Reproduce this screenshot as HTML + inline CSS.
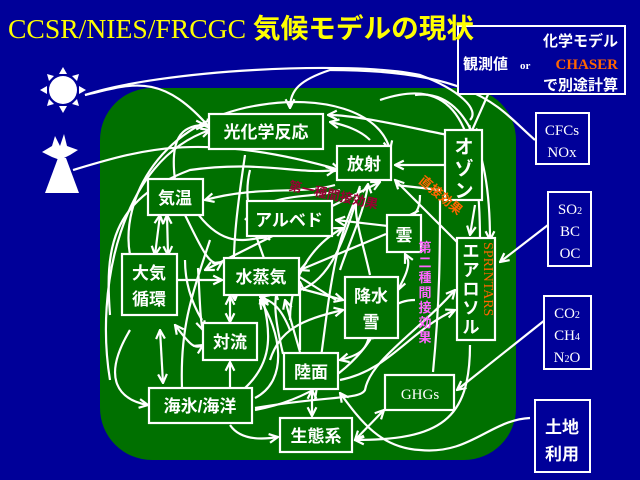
<!DOCTYPE html>
<html><head><meta charset="utf-8"><style>
html,body{margin:0;padding:0;background:#000099;}
svg{display:block;}
.j{font-family:"Liberation Sans","Noto Sans CJK JP",sans-serif;font-weight:bold;fill:#fff;}
.s{font-family:"Liberation Serif",serif;fill:#fff;}
</style></head><body>
<svg width="640" height="480" viewBox="0 0 640 480" xmlns="http://www.w3.org/2000/svg">
<defs>
<marker id="a" viewBox="0 0 10 10" refX="9" refY="5" markerWidth="5" markerHeight="5" orient="auto-start-reverse">
<path d="M1,1 L9,5 L1,9" fill="none" stroke="#fff" stroke-width="2"/></marker>
</defs>
<rect width="640" height="480" fill="#000099"/>
<rect x="100" y="88" width="416" height="372" rx="52" fill="#007000"/>
<!-- sun -->
<circle cx="63" cy="90" r="14" fill="#fff"/>
<g fill="#fff">
<polygon points="63,67 59,74 67,74"/><polygon points="63,113 59,106 67,106"/>
<polygon points="40,90 47,86 47,94"/><polygon points="86,90 79,86 79,94"/>
<polygon points="47,74 54,76 49,81"/><polygon points="79,74 72,76 77,81"/>
<polygon points="47,106 54,104 49,99"/><polygon points="79,106 72,104 77,99"/>
<!-- volcano -->
<polygon points="45,193 79,193 66,158 58,158"/>
<polygon points="42,152 52,146 55,136 60,146 64,134 67,146 78,150 70,155 60,160 52,157"/>
</g>
<g fill="none" stroke="#fff" stroke-width="2.2" marker-end="url(#a)">
<path d="M85,95 C160,70 350,60 420,75 C460,90 480,110 470,120" marker-end="none"/>
<path d="M85,95 C130,85 160,70 210,128"/>
<path d="M73,170 C140,150 200,130 340,170"/>
<path d="M490,90 L470,135"/>
<path d="M535,140 C500,110 480,70 330,70 C300,80 290,90 290,108"/>
<path d="M130,255 C120,200 160,120 260,105 C320,95 380,110 390,150"/>
<path d="M110,380 C95,290 120,160 210,130"/>
<path d="M175,180 C170,140 180,125 205,125"/>
<path d="M448,135 C420,130 360,115 328,115"/>
<path d="M370,140 C360,130 345,125 330,122"/>
<path d="M448,165 L395,165"/>
<path d="M415,95 C450,90 490,120 490,240"/>
<path d="M380,100 C440,80 480,100 480,240" marker-end="none"/>
<path d="M130,330 C100,380 120,400 148,405"/>
<path d="M235,300 C230,250 240,190 245,155" marker-start="url(#a)" marker-end="none"/>
<path d="M205,270 L380,182" marker-start="url(#a)"/>
<path d="M110,315 C105,250 110,200 190,170 C260,160 300,175 335,170"/>
<path d="M315,400 C330,300 330,250 360,190" marker-end="none"/>
<path d="M340,270 C350,240 365,210 368,184"/>
<path d="M370,275 C360,230 350,210 360,186" marker-end="none"/>
<path d="M300,290 C330,280 345,240 360,188" marker-end="none"/>
<path d="M340,190 C310,200 270,190 245,220" marker-end="none"/>
<path d="M335,185 C300,195 260,185 205,200"/>
<path d="M250,170 C240,210 260,240 278,300" marker-end="none"/>
<path d="M420,195 C420,210 415,215 410,215"/>
<path d="M396,185 L440,190" marker-end="none"/>
<path d="M460,245 L395,180"/>
<path d="M388,226 L336,220"/>
<path d="M386,234 L300,270"/>
<path d="M405,254 L408,260 C410,270 400,285 398,290" marker-start="url(#a)"/>
<path d="M298,288 L343,300"/>
<path d="M298,276 L336,300" marker-end="none"/>
<path d="M176,280 L222,280"/>
<path d="M160,330 L163,383" marker-start="url(#a)"/>
<path d="M175,325 C190,345 195,350 203,345" marker-start="url(#a)"/>
<path d="M160,215 L155,255" marker-start="url(#a)"/>
<path d="M167,215 L168,255" marker-start="url(#a)"/>
<path d="M185,215 C200,245 210,270 222,262"/>
<path d="M195,210 C230,260 260,230 270,240" marker-end="none"/>
<path d="M202,320 C190,300 185,280 185,260" marker-end="none"/>
<path d="M198,268 C200,300 200,320 203,330" marker-end="url(#a)"/>
<path d="M182,388 C180,330 190,300 210,240" marker-end="none"/>
<path d="M230,296 L230,322" marker-start="url(#a)"/>
<path d="M230,388 L230,362"/>
<path d="M245,388 C275,360 270,330 262,295"/>
<path d="M255,398 C290,380 280,330 260,300"/>
<path d="M300,352 L285,300"/>
<path d="M290,330 C280,305 270,300 260,297"/>
<path d="M290,320 C290,270 320,240 343,228"/>
<path d="M283,354 C275,320 270,290 285,278" marker-end="none"/>
<path d="M300,350 L300,282"/>
<path d="M255,410 C310,400 350,370 370,340 C385,310 395,300 415,300" marker-end="none"/>
<path d="M270,360 C280,330 300,320 343,310"/>
<path d="M312,390 L312,416" marker-start="url(#a)"/>
<path d="M340,360 C360,355 368,350 370,330" marker-start="url(#a)"/>
<path d="M340,380 C390,370 410,330 455,310"/>
<path d="M255,408 C330,395 360,400 365,390 C370,360 420,330 455,290"/>
<path d="M230,425 C240,440 260,440 278,437"/>
<path d="M355,440 L384,410" marker-start="url(#a)"/>
<path d="M470,345 C470,420 440,440 355,440"/>
<path d="M433,372 C440,300 440,250 440,200" marker-end="none"/>
<path d="M530,418 C490,420 470,455 420,450 C380,448 360,420 340,393"/>
<path d="M545,320 L457,390"/>
<path d="M548,225 L500,262"/>
<path d="M475,205 L470,235"/>
</g>
<!-- boxes -->
<g fill="#007000" stroke="#fff" stroke-width="2.2">
<rect x="209" y="114" width="114" height="35"/>
<rect x="337" y="146" width="54" height="34"/>
<rect x="445" y="130" width="37" height="70"/>
<rect x="148" y="179" width="55" height="36"/>
<rect x="247" y="201" width="85" height="35"/>
<rect x="387" y="215" width="34" height="37"/>
<rect x="457" y="238" width="38" height="102"/>
<rect x="122" y="254" width="55" height="61"/>
<rect x="224" y="258" width="75" height="37"/>
<rect x="345" y="277" width="53" height="61"/>
<rect x="203" y="323" width="54" height="37"/>
<rect x="284" y="353" width="54" height="36"/>
<rect x="385" y="375" width="69" height="35"/>
<rect x="149" y="388" width="103" height="35"/>
<rect x="280" y="418" width="72" height="34"/>
</g>
<g fill="#000099" stroke="#fff" stroke-width="2">
<rect x="458" y="26" width="167" height="68"/>
<rect x="536" y="113" width="53" height="51"/>
<rect x="548" y="192" width="43" height="74"/>
<rect x="544" y="296" width="47" height="73"/>
<rect x="535" y="400" width="55" height="72"/>
</g>
<g class="j" font-size="17">
<text x="266" y="138" text-anchor="middle">光化学反応</text>
<text x="364" y="170" text-anchor="middle">放射</text>
<text x="175" y="204" text-anchor="middle">気温</text>
<text x="289" y="226" text-anchor="middle">アルベド</text>
<text x="404" y="241" text-anchor="middle">雲</text>
<text x="149" y="279" text-anchor="middle">大気</text>
<text x="149" y="305" text-anchor="middle">循環</text>
<text x="261" y="283" text-anchor="middle">水蒸気</text>
<text x="371" y="302" text-anchor="middle">降水</text>
<text x="371" y="328" text-anchor="middle">雪</text>
<text x="230" y="348" text-anchor="middle">対流</text>
<text x="311" y="378" text-anchor="middle">陸面</text>
<text x="200" y="412" text-anchor="middle">海氷/海洋</text>
<text x="316" y="442" text-anchor="middle">生態系</text>
<text x="562" y="433" text-anchor="middle">土地</text>
<text x="562" y="460" text-anchor="middle">利用</text>
<text x="618" y="46" text-anchor="end" font-size="15">化学モデル</text>
<text x="463" y="69" font-size="15">観測値</text>
<text x="618" y="90" text-anchor="end" font-size="15">で別途計算</text>
</g>
<g class="j" font-size="19" font-weight="normal" text-anchor="middle">
<text x="464" y="153">オ</text><text x="464" y="175">ゾ</text><text x="464" y="197">ン</text>
</g>
<g class="j" font-size="17" font-weight="normal" text-anchor="middle">
<text x="471" y="257">エ</text><text x="471" y="276">ア</text><text x="471" y="295">ロ</text><text x="471" y="314">ソ</text><text x="471" y="333">ル</text>
</g>
<g class="s" font-size="15" text-anchor="middle">
<text x="420" y="399">GHGs</text>
<text x="562" y="135">CFCs</text><text x="562" y="157">NOx</text>
<text x="570" y="214">SO<tspan font-size="10">2</tspan></text><text x="570" y="236">BC</text><text x="570" y="258">OC</text>
<text x="567" y="318">CO<tspan font-size="10">2</tspan></text><text x="567" y="340">CH<tspan font-size="10">4</tspan></text><text x="567" y="362">N<tspan font-size="10">2</tspan>O</text>
</g>
<text x="520" y="69" font-family="Liberation Serif,serif" font-size="11" font-weight="bold" fill="#fff">or</text>
<text x="618" y="69" text-anchor="end" font-family="Liberation Serif,serif" font-size="15" font-weight="bold" fill="#ff6600">CHASER</text>
<text transform="translate(484,242) rotate(90)" font-family="Liberation Serif,serif" font-size="14" fill="#ff6600">SPRINTARS</text>
<text transform="translate(288,190) rotate(12)" font-family="Liberation Sans,Noto Sans CJK JP,sans-serif" font-size="13" font-weight="bold" fill="#990033">第一種間接効果</text>
<text transform="translate(418,182) rotate(40)" font-family="Liberation Sans,Noto Sans CJK JP,sans-serif" font-size="13" font-weight="bold" fill="#ff6600">直接効果</text>
<g font-family="Liberation Sans,Noto Sans CJK JP,sans-serif" font-size="13" font-weight="bold" fill="#ff66ff" text-anchor="middle">
<text x="425" y="252">第</text><text x="425" y="267">二</text><text x="425" y="282">種</text><text x="425" y="297">間</text><text x="425" y="312">接</text><text x="425" y="327">効</text><text x="425" y="342">果</text>
</g>
<text x="8" y="38" textLength="466" lengthAdjust="spacingAndGlyphs" font-family="Liberation Serif, Noto Serif CJK SC, serif" font-size="27" fill="#ffff00">CCSR/NIES/FRCGC <tspan font-family="Liberation Sans, Noto Sans CJK JP, sans-serif" font-weight="bold">気候モデルの現状</tspan></text>
</svg>
</body></html>
